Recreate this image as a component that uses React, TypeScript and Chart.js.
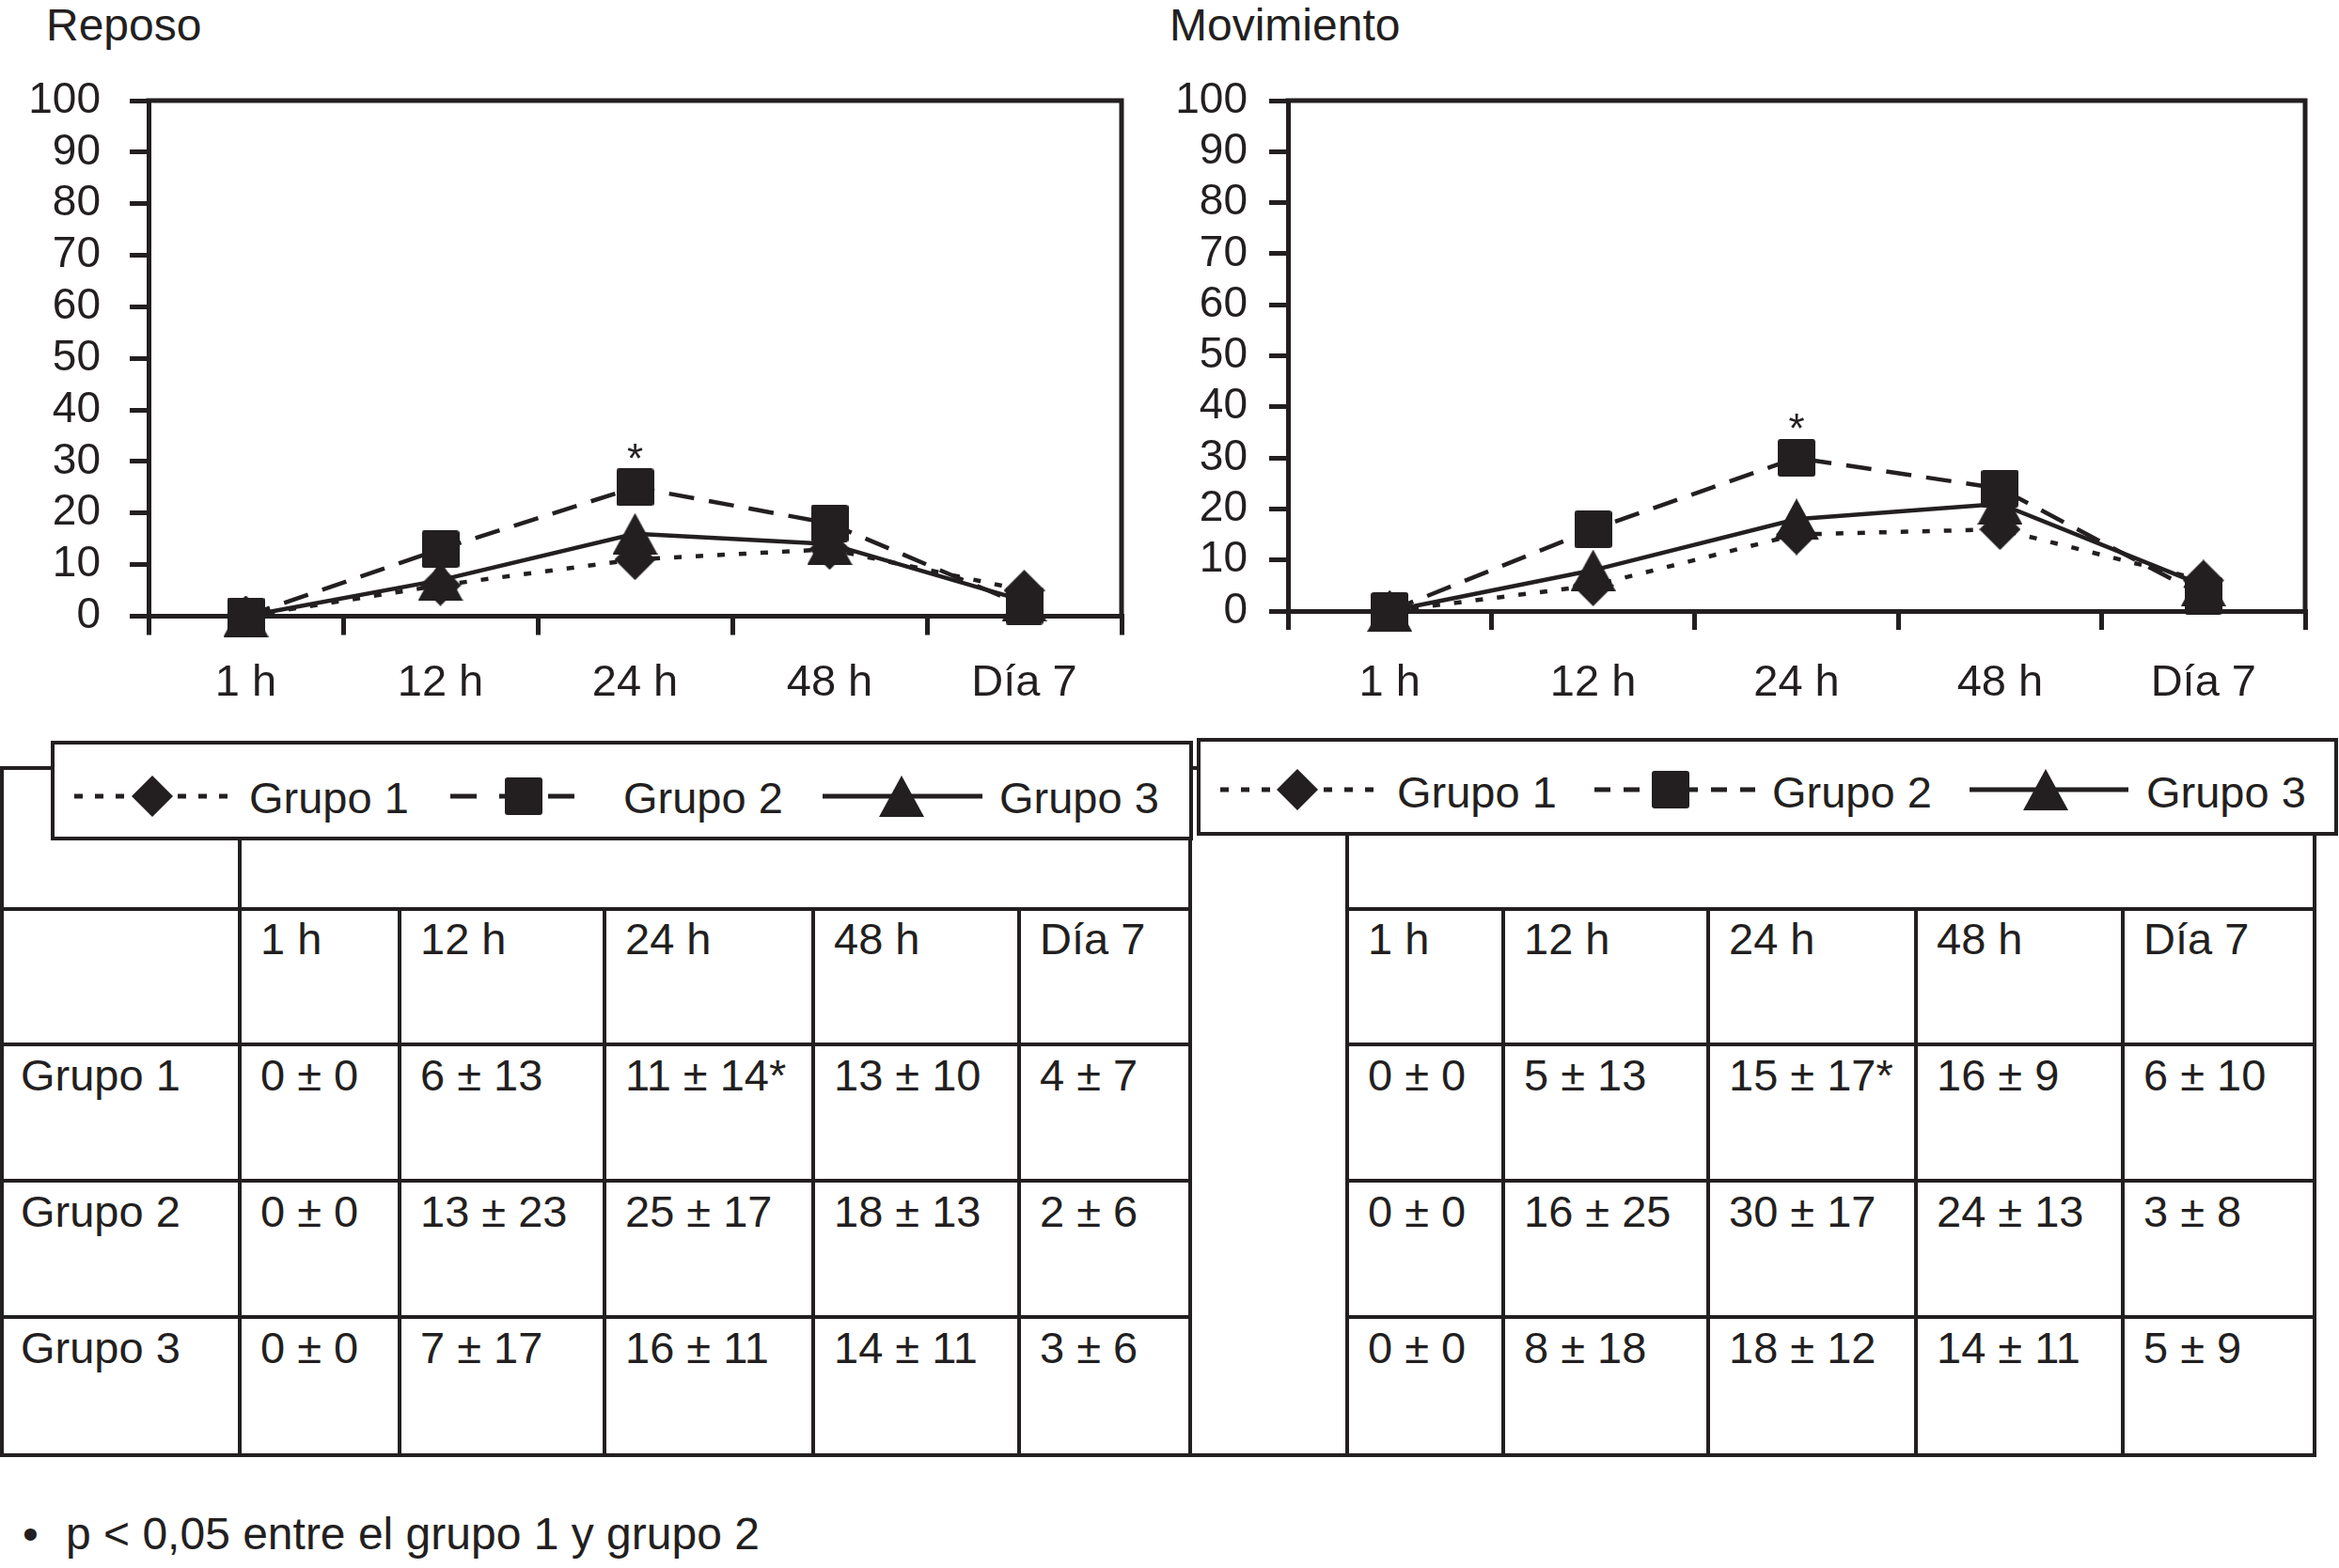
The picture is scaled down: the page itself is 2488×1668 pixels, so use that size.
import React, { useEffect, useRef } from 'react';
import { Chart, registerables } from 'chart.js';

Chart.register(...registerables);

const INK = '#231f20';
const FONT = '"Liberation Sans", Arial, Helvetica, sans-serif';

// ---- categories / labels ----
const timeLabels = ['1 h', '12 h', '24 h', '48 h', 'Día 7'];
const groupNames = ['Grupo 1', 'Grupo 2', 'Grupo 3'];
const panelTitles = ['Reposo', 'Movimiento'];
const yMin = 0;
const yMax = 100;
const yStep = 10;

// ---- plotted values ----
const reposoGrupo1 = [0, 6, 11, 13, 5];
const reposoGrupo2 = [0, 13, 25, 18, 2];
const reposoGrupo3 = [0, 7, 16, 14, 3];
const movimientoGrupo1 = [0, 5, 15, 16, 6];
const movimientoGrupo2 = [0, 16, 30, 24, 3];
const movimientoGrupo3 = [0, 8, 18, 21, 5];

// significance mark (*): Grupo 2 at 24 h
const significantGroup = 1;
const significantTime = 2;

// ---- table texts ----
const reposoTableRows = [
  ['0 ± 0', '6 ± 13', '11 ± 14*', '13 ± 10', '4 ± 7'],
  ['0 ± 0', '13 ± 23', '25 ± 17', '18 ± 13', '2 ± 6'],
  ['0 ± 0', '7 ± 17', '16 ± 11', '14 ± 11', '3 ± 6'],
];
const movimientoTableRows = [
  ['0 ± 0', '5 ± 13', '15 ± 17*', '16 ± 9', '6 ± 10'],
  ['0 ± 0', '16 ± 25', '30 ± 17', '24 ± 13', '3 ± 8'],
  ['0 ± 0', '8 ± 18', '18 ± 12', '14 ± 11', '5 ± 9'],
];
const footnoteBullet = '•';
const footnote = 'p < 0,05 entre el grupo 1 y grupo 2';

// ---------------------------------------------------------------
type MarkerKind = 'diamond' | 'square' | 'triangle';
const markerSize: Record<MarkerKind, [number, number]> = {
  diamond: [44, 44],
  square: [40, 40],
  triangle: [48, 44],
};

function makeMarker(kind: MarkerKind): HTMLCanvasElement {
  const [w, h] = markerSize[kind];
  const c = document.createElement('canvas');
  c.width = w;
  c.height = h;
  const ctx = c.getContext('2d')!;
  ctx.fillStyle = INK;
  ctx.beginPath();
  if (kind === 'diamond') {
    ctx.moveTo(w / 2, 0);
    ctx.lineTo(w, h / 2);
    ctx.lineTo(w / 2, h);
    ctx.lineTo(0, h / 2);
  } else if (kind === 'square') {
    ctx.moveTo(3, 0);
    ctx.lineTo(w - 3, 0);
    ctx.quadraticCurveTo(w, 0, w, 3);
    ctx.lineTo(w, h - 3);
    ctx.quadraticCurveTo(w, h, w - 3, h);
    ctx.lineTo(3, h);
    ctx.quadraticCurveTo(0, h, 0, h - 3);
    ctx.lineTo(0, 3);
    ctx.quadraticCurveTo(0, 0, 3, 0);
  } else {
    ctx.moveTo(w / 2, 0);
    ctx.lineTo(w, h);
    ctx.lineTo(0, h);
  }
  ctx.closePath();
  ctx.fill();
  return c;
}

const framePlugin = {
  id: 'plotFrame',
  beforeDatasetsDraw(chart: any) {
    const { ctx, chartArea: a } = chart;
    ctx.save();
    ctx.strokeStyle = INK;
    ctx.lineWidth = 5;
    ctx.lineCap = 'square';
    ctx.beginPath();
    ctx.moveTo(a.left, a.top);
    ctx.lineTo(a.right, a.top);
    ctx.lineTo(a.right, a.bottom);
    ctx.stroke();
    ctx.restore();
  },
};

const asteriskPlugin = {
  id: 'significance',
  afterDatasetsDraw(chart: any) {
    const meta = chart.getDatasetMeta(significantGroup);
    const pt = meta && meta.data[significantTime];
    if (!pt) return;
    const ctx = chart.ctx;
    ctx.save();
    ctx.fillStyle = INK;
    ctx.font = `44px ${FONT}`;
    ctx.textAlign = 'center';
    ctx.textBaseline = 'middle';
    ctx.fillText('*', pt.x, pt.y - 28);
    ctx.restore();
  },
};

type Geom = {
  width: number;
  height: number;
  yWidth: number;
  yPad: number;
  xHeight: number;
  xPad: number;
  padTop: number;
  padRight: number;
};

function ChartPanel({ series, geom, left }: { series: number[][]; geom: Geom; left: number }) {
  const ref = useRef<HTMLCanvasElement>(null);
  useEffect(() => {
    const markers = [makeMarker('diamond'), makeMarker('square'), makeMarker('triangle')];
    const dashes = [[8, 15], [27, 16], []];
    const orders = [1, 0, 2];
    const chart = new Chart(ref.current!, {
      type: 'line',
      data: {
        labels: timeLabels,
        datasets: series.map((d, i) => ({
          label: groupNames[i],
          data: d,
          borderColor: INK,
          backgroundColor: INK,
          borderWidth: 4.5,
          borderDash: dashes[i],
          pointStyle: markers[i] as any,
          pointRadius: 22,
          pointHoverRadius: 22,
          order: orders[i],
          clip: false as any,
          tension: 0,
          fill: false,
        })),
      },
      options: {
        animation: false,
        responsive: false,
        events: [],
        layout: { padding: { top: geom.padTop, right: geom.padRight, left: 0, bottom: 0 } },
        plugins: { legend: { display: false }, tooltip: { enabled: false } },
        scales: {
          x: {
            type: 'category',
            offset: true,
            grid: {
              offset: true,
              drawOnChartArea: false,
              drawTicks: true,
              tickLength: 20,
              lineWidth: 5,
              color: INK,
            },
            border: { display: true, color: INK, width: 5 },
            ticks: {
              color: INK,
              font: { size: 47, family: FONT },
              padding: geom.xPad,
              maxRotation: 0,
              autoSkip: false,
            },
            afterFit: (s: any) => {
              s.height = geom.xHeight;
            },
          },
          y: {
            min: yMin,
            max: yMax,
            ticks: {
              stepSize: yStep,
              autoSkip: false,
              color: INK,
              font: { size: 46, family: FONT },
              padding: geom.yPad,
            },
            grid: {
              drawOnChartArea: false,
              drawTicks: true,
              tickLength: 20,
              lineWidth: 5,
              color: INK,
            },
            border: { display: true, color: INK, width: 5 },
            afterFit: (s: any) => {
              s.width = geom.yWidth;
            },
          },
        },
      },
      plugins: [framePlugin, asteriskPlugin],
    } as any);
    return () => chart.destroy();
  }, []);
  return (
    <div style={{ position: 'absolute', left, top: 0, width: geom.width, height: geom.height }}>
      <canvas
        ref={ref}
        width={geom.width}
        height={geom.height}
        style={{ width: geom.width, height: geom.height, display: 'block' }}
      />
    </div>
  );
}

// ---------------------------------------------------------------
const T = (props: any) => (
  <text fontFamily={FONT} fill={INK} fontSize={47} {...props} />
);

function Legend({
  box,
  cy,
  baseline,
  items,
}: {
  box: [number, number, number, number];
  cy: number;
  baseline: number;
  items: { from: number; to: number; dash: string; mx: number; tx: number; kind: MarkerKind; name: string }[];
}) {
  const [x, y, w, h] = box;
  return (
    <g>
      <rect x={x} y={y} width={w} height={h} fill="#fff" stroke={INK} strokeWidth={4} />
      {items.map((it, i) => {
        const [mw, mh] = markerSize[it.kind];
        let marker: any;
        if (it.kind === 'diamond') {
          marker = (
            <polygon
              points={`${it.mx},${cy - mh / 2} ${it.mx + mw / 2},${cy} ${it.mx},${cy + mh / 2} ${it.mx - mw / 2},${cy}`}
              fill={INK}
            />
          );
        } else if (it.kind === 'square') {
          marker = <rect x={it.mx - mw / 2} y={cy - mh / 2} width={mw} height={mh} rx={3} fill={INK} />;
        } else {
          marker = (
            <polygon
              points={`${it.mx},${cy - mh / 2} ${it.mx + mw / 2},${cy + mh / 2} ${it.mx - mw / 2},${cy + mh / 2}`}
              fill={INK}
            />
          );
        }
        return (
          <g key={i}>
            <line
              x1={it.from}
              y1={cy}
              x2={it.to}
              y2={cy}
              stroke={INK}
              strokeWidth={5}
              strokeDasharray={it.dash || undefined}
            />
            {marker}
            <T x={it.tx} y={baseline}>
              {it.name}
            </T>
          </g>
        );
      })}
    </g>
  );
}

const rowY = [817, 967, 1111, 1256, 1401, 1548];
const leftCols = [2, 255, 425, 643, 865, 1084, 1266];
const rightCols = [1266, 1433, 1599, 1817, 2038, 2258, 2462];
const baselineOffset = [48, 49, 49, 49];

function Tables() {
  const L = (x1: number, y1: number, x2: number, y2: number, k: string) => (
    <line key={k} x1={x1} y1={y1} x2={x2} y2={y2} stroke={INK} strokeWidth={4} strokeLinecap="square" />
  );
  const lines: any[] = [];
  // left table
  const lL = leftCols[leftCols.length - 1];
  rowY.forEach((y, i) => lines.push(L(leftCols[0], y, lL, y, `lh${i}`)));
  [0, 1, leftCols.length - 1].forEach((ci) =>
    lines.push(L(leftCols[ci], rowY[0], leftCols[ci], rowY[5], `lv${ci}`))
  );
  for (let ci = 2; ci < leftCols.length - 1; ci++)
    lines.push(L(leftCols[ci], rowY[1], leftCols[ci], rowY[5], `lvi${ci}`));
  // right table
  const rL = rightCols[rightCols.length - 1];
  lines.push(L(rightCols[0], rowY[0], rL, rowY[0], 'rh0'));
  for (let i = 1; i < 5; i++) lines.push(L(rightCols[1], rowY[i], rL, rowY[i], `rh${i}`));
  lines.push(L(rightCols[0], rowY[5], rL, rowY[5], 'rh5'));
  [0, 1, rightCols.length - 1].forEach((ci) =>
    lines.push(L(rightCols[ci], rowY[0], rightCols[ci], rowY[5], `rv${ci}`))
  );
  for (let ci = 2; ci < rightCols.length - 1; ci++)
    lines.push(L(rightCols[ci], rowY[1], rightCols[ci], rowY[5], `rvi${ci}`));

  const texts: any[] = [];
  const rowsText = (cols: number[], rows: string[][], withNames: boolean, key: string) => {
    timeLabels.forEach((t, i) =>
      texts.push(
        <T key={`${key}h${i}`} x={cols[i + 1] + 22} y={rowY[1] + baselineOffset[0]}>
          {t}
        </T>
      )
    );
    rows.forEach((r, ri) => {
      const y = rowY[ri + 2] + baselineOffset[ri + 1];
      if (withNames)
        texts.push(
          <T key={`${key}n${ri}`} x={22} y={y}>
            {groupNames[ri]}
          </T>
        );
      r.forEach((c, ci) =>
        texts.push(
          <T key={`${key}c${ri}${ci}`} x={cols[ci + 1] + 22} y={y}>
            {c}
          </T>
        )
      );
    });
  };
  rowsText(leftCols, reposoTableRows, true, 'l');
  rowsText(rightCols, movimientoTableRows, false, 'r');
  return (
    <g>
      {lines}
      {texts}
    </g>
  );
}

const kinds: MarkerKind[] = ['diamond', 'square', 'triangle'];

export default function App() {
  const leftGeom: Geom = {
    width: 1233,
    height: 800,
    yWidth: 158,
    yPad: 31,
    xHeight: 144.5,
    xPad: 23,
    padTop: 107,
    padRight: 40,
  };
  const rightGeom: Geom = {
    width: 1248,
    height: 800,
    yWidth: 130,
    yPad: 23,
    xHeight: 150,
    xPad: 29,
    padTop: 107,
    padRight: 36,
  };

  const leftLegendItems = [
    { from: 79, to: 249, dash: '9 13', mx: 162, tx: 265 },
    { from: 479, to: 634, dash: '28 24', mx: 557, tx: 663 },
    { from: 875, to: 1045, dash: '', mx: 959, tx: 1063 },
  ].map((it, i) => ({ ...it, kind: kinds[i], name: groupNames[i] }));
  const rightLegendItems = [
    { from: 1298, to: 1468, dash: '9 13', mx: 1380, tx: 1486 },
    { from: 1696, to: 1867, dash: '17 14', mx: 1777, tx: 1885 },
    { from: 2095, to: 2264, dash: '', mx: 2176, tx: 2283 },
  ].map((it, i) => ({ ...it, kind: kinds[i], name: groupNames[i] }));

  return (
    <div
      style={{
        position: 'absolute',
        left: 0,
        top: 0,
        width: 2488,
        height: 1668,
        background: '#fff',
        overflow: 'hidden',
      }}
    >
      <svg
        width={2488}
        height={1668}
        style={{ position: 'absolute', left: 0, top: 0 }}
        xmlns="http://www.w3.org/2000/svg"
      >
        <T x={49} y={43} fontSize={48}>
          {panelTitles[0]}
        </T>
        <T x={1244} y={43} fontSize={48}>
          {panelTitles[1]}
        </T>
        <Tables />
        <Legend box={[56, 790, 1211, 102]} cy={847} baseline={865} items={leftLegendItems} />
        <Legend box={[1275, 787, 1210, 100]} cy={840} baseline={859} items={rightLegendItems} />
        <T x={24} y={1648} fontSize={48}>
          {footnoteBullet}
        </T>
        <T x={70} y={1648} fontSize={48}>
          {footnote}
        </T>
      </svg>
      <ChartPanel series={[reposoGrupo1, reposoGrupo2, reposoGrupo3]} geom={leftGeom} left={0} />
      <ChartPanel
        series={[movimientoGrupo1, movimientoGrupo2, movimientoGrupo3]}
        geom={rightGeom}
        left={1240}
      />
    </div>
  );
}
